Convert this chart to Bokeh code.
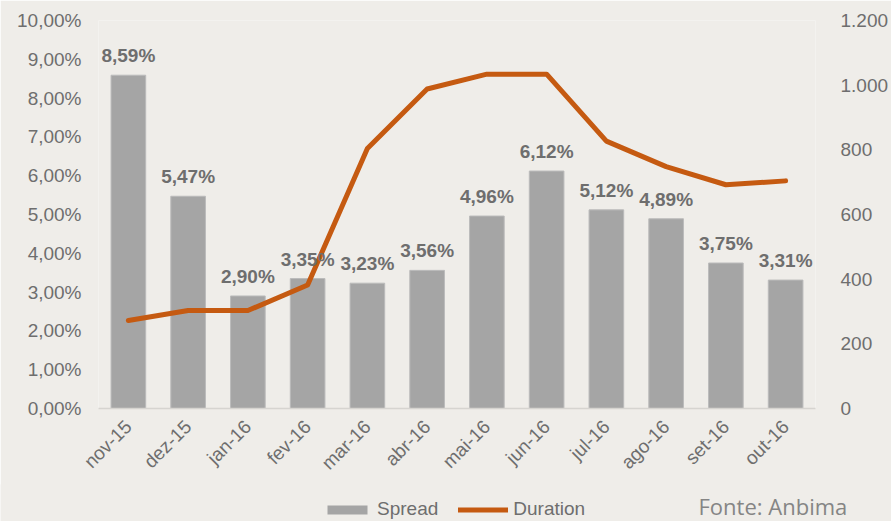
from bokeh.plotting import figure
from bokeh.models import (ColumnDataSource, Range1d, LinearAxis, CustomJSTickFormatter,
                          Legend, LegendItem, Label, FactorRange)
from bokeh.core.properties import value
from bokeh.embed import file_html
from bokeh.resources import INLINE
import math

months = ["nov-15", "dez-15", "jan-16", "fev-16", "mar-16", "abr-16",
          "mai-16", "jun-16", "jul-16", "ago-16", "set-16", "out-16"]
spread = [8.59, 5.47, 2.90, 3.35, 3.23, 3.56, 4.96, 6.12, 5.12, 4.89, 3.75, 3.31]
duration = [272, 303, 303, 382, 804, 988, 1034, 1034, 827, 748, 692, 704]
spread_labels = ["8,59%", "5,47%", "2,90%", "3,35%", "3,23%", "3,56%",
                 "4,96%", "6,12%", "5,12%", "4,89%", "3,75%", "3,31%"]
left_ticks = [0, 1, 2, 3, 4, 5, 6, 7, 8, 9, 10]
right_ticks = [0, 200, 400, 600, 800, 1000, 1200]

BG = "#EFEDE9"
TXT = "#6E6E6E"
BAR = "#A5A5A5"
BAR_EDGE = "#BBBBBB"
LINE = "#C55A11"
FONT = "Liberation Sans"
FS = "19px"

src = ColumnDataSource(dict(m=months, s=spread, d=duration, lab=spread_labels))

p = figure(width=891, height=485, x_range=FactorRange(*months, range_padding=0),
           y_range=Range1d(0, 10), output_backend="svg", toolbar_location=None,
           min_border_left=98, min_border_right=73, min_border_top=20, min_border_bottom=77)
p.background_fill_color = BG
p.border_fill_color = BG
p.outline_line_color = None
p.xgrid.grid_line_color = None
p.ygrid.grid_line_color = None

p.extra_y_ranges = {"dur": Range1d(0, 1200)}

p.vbar(x="m", top="s", width=0.58, source=src, fill_color=BAR, line_color=BAR_EDGE)
p.line(x="m", y="d", source=src, y_range_name="dur", line_color=LINE,
       line_width=5, line_cap="round", line_join="round")

p.text(x="m", y="s", text="lab", source=src, text_align="center", text_baseline="bottom",
       y_offset=-9, text_font=value(FONT), text_font_style="bold",
       text_font_size=FS, text_color=TXT)

# left axis
ya = p.yaxis[0]
ya.ticker = left_ticks
ya.formatter = CustomJSTickFormatter(code="return tick.toFixed(2).replace('.', ',') + '%';")
ya.axis_line_color = None
ya.major_tick_line_color = None
ya.minor_tick_line_color = None
ya.major_label_text_font = FONT
ya.major_label_text_font_size = FS
ya.major_label_text_color = TXT
ya.major_label_standoff = 11

# right axis
ra = LinearAxis(y_range_name="dur", ticker=right_ticks)
ra.formatter = CustomJSTickFormatter(code="return tick.toString().replace(/\\B(?=(\\d{3})+(?!\\d))/g, '.');")
ra.axis_line_color = None
ra.major_tick_line_color = None
ra.minor_tick_line_color = None
ra.major_label_text_font = FONT
ra.major_label_text_font_size = FS
ra.major_label_text_color = TXT
ra.major_label_standoff = 19
p.add_layout(ra, "right")

xa = p.xaxis[0]
xa.axis_line_color = "#D6D4D0"
xa.axis_line_width = 1.5
xa.major_tick_line_color = None
xa.minor_tick_line_color = None
xa.major_label_orientation = math.pi / 4
xa.major_label_text_font = FONT
xa.major_label_text_font_size = FS
xa.major_label_text_color = TXT
xa.major_label_standoff = 9

# bottom strip (separate root) holding the legend and the source note;
# its series renderers use the same data but fall far outside its visible range
strip = figure(width=891, height=37, x_range=FactorRange(*months), y_range=Range1d(1000, 1001),
               output_backend="svg", toolbar_location=None,
               x_axis_location=None, y_axis_location=None,
               min_border_left=0, min_border_right=0, min_border_top=0, min_border_bottom=0)
strip.styles = {"margin-top": "-1px"}
strip.background_fill_color = BG
strip.border_fill_color = BG
strip.outline_line_color = None
strip.xgrid.grid_line_color = None
strip.ygrid.grid_line_color = None
strip.extra_y_ranges = {"dur": Range1d(100000, 100001)}

lg_bar = strip.vbar(x="m", top="s", width=0.58, source=src, fill_color=BAR, line_color=None)
lg_line = strip.line(x="m", y="d", source=src, y_range_name="dur", line_color=LINE,
                     line_width=5, line_cap="round")

legend = Legend(items=[LegendItem(label="Spread", renderers=[lg_bar]),
                       LegendItem(label="Duration", renderers=[lg_line])],
                orientation="horizontal", location=(322, 1),
                background_fill_alpha=0, border_line_color=None,
                label_text_font=FONT, label_text_font_size=FS,
                label_text_color=TXT, glyph_width=50, glyph_height=11,
                spacing=20, label_standoff=5, padding=0, margin=0)
strip.add_layout(legend, "center")

strip.add_layout(Label(x=698, y=16, x_units="screen", y_units="screen", text="Fonte: Anbima",
                       text_font="Open Sans", text_font_size="22px", text_color="#858585",
                       text_baseline="alphabetic"))

open("out.html", "w").write(file_html([p, strip], INLINE))
